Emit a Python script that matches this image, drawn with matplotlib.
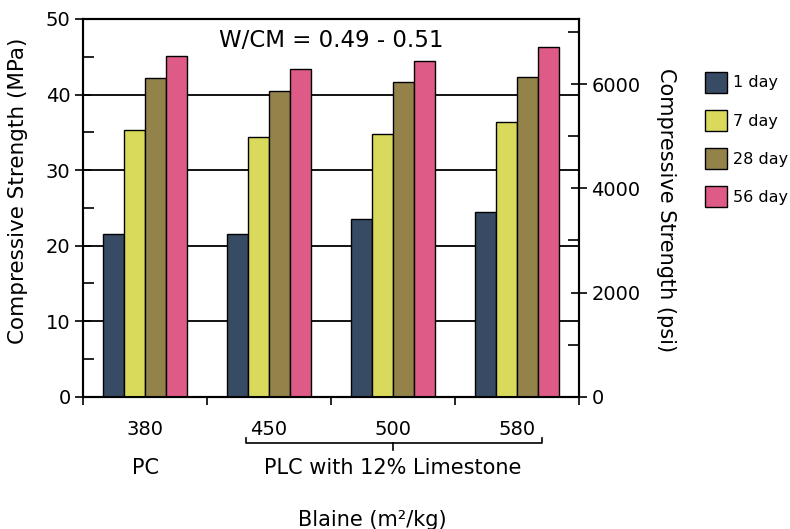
import matplotlib
matplotlib.use("Agg")
import matplotlib.pyplot as plt
import numpy as np
from matplotlib.ticker import MultipleLocator, FixedLocator
import matplotlib.transforms as mtransforms

plt.rcParams['font.family'] = ['DejaVu Sans']

categories = ["380", "450", "500", "580"]
groups = ["PC", "PLC with 12% Limestone"]
series_names = ["1 day", "7 day", "28 day", "56 day"]
day1 = [21.6, 21.6, 23.5, 24.5]
day7 = [35.3, 34.4, 34.8, 36.4]
day28 = [42.2, 40.5, 41.6, 42.3]
day56 = [45.1, 43.4, 44.5, 46.3]
colors = ["#384b65", "#d9da5b", "#93834a", "#de5a87"]
title = "W/CM = 0.49 - 0.51"
MPA_TO_PSI = 145.038

series = [day1, day7, day28, day56]

fig = plt.figure(figsize=(7.9, 5.29), dpi=100)
ax = fig.add_axes([83/790, 1-396.7/529, (579-83)/790, (396.7-19)/529])

x = np.arange(len(categories))
w = 0.17
for i, (vals, c, name) in enumerate(zip(series, colors, series_names)):
    ax.bar(x + (i - 1.5) * w, vals, width=w, color=c, edgecolor='black',
           linewidth=1.0, label=name, zorder=3)

ax.set_xlim(-0.5, len(categories) - 0.5)
ax.set_ylim(0, 50)
ax.yaxis.set_major_locator(MultipleLocator(10))
ax.yaxis.set_minor_locator(MultipleLocator(5))
ax.grid(axis='y', which='major', color='black', linewidth=1.3, zorder=1)
ax.set_axisbelow(True)
ax.tick_params(axis='y', which='major', direction='inout', length=12, width=1.2,
               labelsize=14, pad=3)
ax.tick_params(axis='y', which='minor', direction='in', length=8, width=1.2)

ax.xaxis.set_major_locator(FixedLocator(np.arange(-0.5, len(categories), 1.0)))
ax.xaxis.set_minor_locator(FixedLocator(x))
ax.tick_params(axis='x', which='major', direction='out', length=6, width=1.2,
               labelbottom=False)
ax.set_xticks(x, categories, minor=True)
ax.tick_params(axis='x', which='minor', length=0, labelsize=14, pad=17)

for s in ax.spines.values():
    s.set_linewidth(1.5)

ax.set_ylabel("Compressive Strength (MPa)", fontsize=15.5, ha='center', va='center')
ax.yaxis.set_label_coords(-0.132, 0.545)

ax.text(0.5, 0.944, title, transform=ax.transAxes, ha='center', va='center',
        fontsize=16.5, zorder=5)

ax2 = ax.twinx()
ax2.set_ylim(0, 50 * MPA_TO_PSI)
ax2.yaxis.set_major_locator(MultipleLocator(2000))
ax2.yaxis.set_minor_locator(MultipleLocator(1000))
ax2.tick_params(axis='y', which='major', direction='inout', length=12, width=1.2,
                labelsize=14, pad=3)
ax2.tick_params(axis='y', which='minor', direction='in', length=8, width=1.2)
ax2.set_ylabel("Compressive Strength (psi)", fontsize=15, rotation=-90,
               ha='center', va='center')
ax2.yaxis.set_label_coords(1.175, 0.494)
for s in ax2.spines.values():
    s.set_linewidth(1.5)

# group bracket and group labels
trans = mtransforms.blended_transform_factory(ax.transData, ax.transAxes)
yb = -0.1226
x0, x1 = 1 - 0.185, 3 + 0.2
xm = (1 + 3) / 2
ax.plot([x0, x0, x1, x1], [yb + 0.014, yb, yb, yb + 0.014], color='black',
        lw=1.2, transform=trans, clip_on=False)
ax.plot([xm, xm], [yb, yb - 0.018], color='black', lw=1.2, transform=trans,
        clip_on=False)
ax.text(0, -0.189, groups[0], transform=trans, ha='center', va='center', fontsize=15)
ax.text(xm, -0.189, groups[1], transform=trans, ha='center', va='center', fontsize=15)

fig.text(372/790, 1-520/529, "Blaine (m\u00b2/kg)", ha='center', va='center', fontsize=15)

# legend
handles, labels = ax.get_legend_handles_labels()
fig.legend(handles, labels, loc='upper left', bbox_to_anchor=(705/790, 1-72/529),
           frameon=False, fontsize=11.5, handlelength=1.375, handleheight=1.6,
           labelspacing=1.1, handletextpad=0.37, borderaxespad=0,
           borderpad=0)

fig.savefig("out.png", dpi=100)
